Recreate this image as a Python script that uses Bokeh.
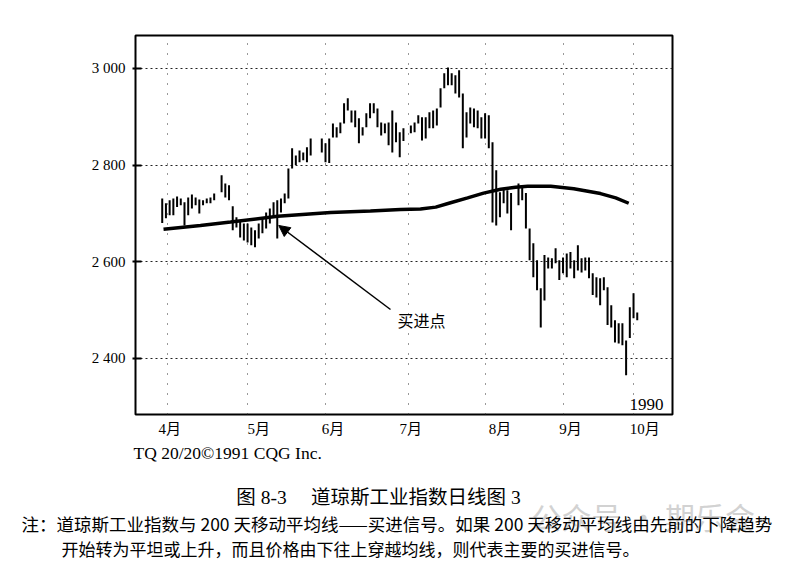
from bokeh.plotting import figure
from bokeh.models import Range1d, FixedTicker, Label, Arrow, NormalHead
from bokeh.embed import file_html
from bokeh.resources import INLINE

# ---------------- data ----------------
# trading-day index of each daily bar (gaps = holidays / unread days)
day = [0, 1, 2, 3, 4, 5, 6, 7, 8, 9, 10, 11, 12, 13, 14,
       16, 17, 18, 19, 20, 21, 22, 23, 24, 25, 26, 27, 28, 29, 30,
       31, 32, 33, 34, 35, 36, 37, 38, 39, 40,
       43, 44, 45, 46, 47, 48, 49, 50, 51, 52, 53, 54, 55, 56, 57,
       58, 59, 60, 61, 62, 63, 64, 65,
       67, 68, 69, 70, 71, 72, 73, 74, 75, 76, 77, 78, 79, 80, 81,
       82, 83, 84, 85, 86, 87, 88, 89, 90, 91, 92, 93, 94,
       96, 97, 98, 99, 100, 101, 102, 103, 104, 105, 106, 107, 108, 109, 110,
       111, 112, 113, 114, 115, 116, 117, 118, 119, 120, 121, 122, 123, 124, 125,
       126, 127, 128]

high = [2731, 2721, 2727, 2731, 2735, 2731, 2723, 2733, 2739, 2733, 2729, 2727, 2731, 2733, 2741,
        2779, 2762, 2758, 2715, 2692, 2686, 2679, 2679, 2671, 2665, 2679, 2690, 2702, 2710, 2723,
        2727, 2731, 2741, 2793, 2835, 2820, 2830, 2826, 2837, 2855,
        2855, 2845, 2855, 2886, 2878, 2888, 2928, 2938, 2913, 2913, 2897, 2878, 2907, 2928, 2928,
        2917, 2888, 2886, 2888, 2913, 2888, 2868, 2876,
        2882, 2888, 2903, 2899, 2899, 2909, 2913, 2917, 2959, 2990, 3002, 2990, 2986, 2996, 2948,
        2909, 2919, 2917, 2913, 2899, 2907, 2903, 2847, 2789, 2744, 2752, 2748, 2742,
        2762, 2754, 2742, 2669, 2638, 2603, 2545, 2614, 2609, 2607, 2628, 2603, 2609, 2617, 2620,
        2603, 2634, 2607, 2609, 2609, 2576, 2568, 2566, 2568, 2547, 2510, 2479, 2473, 2473, 2437,
        2506, 2535, 2495]

low = [2680, 2690, 2696, 2696, 2713, 2717, 2675, 2696, 2710, 2717, 2700, 2717, 2721, 2721, 2727,
       2744, 2733, 2727, 2665, 2671, 2650, 2644, 2640, 2634, 2630, 2648, 2659, 2669, 2679, 2692,
       2648, 2702, 2721, 2731, 2793, 2800, 2806, 2810, 2806, 2820,
       2826, 2806, 2804, 2857, 2857, 2866, 2886, 2913, 2888, 2878, 2845, 2861, 2878, 2897, 2907,
       2878, 2861, 2866, 2841, 2826, 2847, 2816, 2850,
       2866, 2868, 2886, 2851, 2855, 2876, 2876, 2882, 2919, 2959, 2965, 2965, 2948, 2940, 2835,
       2857, 2886, 2878, 2876, 2855, 2855, 2835, 2681, 2675, 2692, 2721, 2700, 2665,
       2717, 2727, 2669, 2603, 2568, 2541, 2464, 2520, 2586, 2586, 2597, 2562, 2576, 2568, 2586,
       2566, 2582, 2578, 2582, 2566, 2531, 2526, 2510, 2541, 2469, 2464, 2433, 2431, 2427, 2365,
       2442, 2483, 2479]

# 200-day moving average (read at several days)
ma_day = [0.35, 10.3, 18.4, 31.1, 45.4, 56.1, 64.2, 69.6, 73.7, 77.7, 82.3, 86.6,
          91.2, 95.2, 98.5, 104.7, 110.9, 118.1, 122.2, 125.7]
ma_value = [2667, 2675, 2682, 2694, 2702, 2705, 2708, 2709, 2713, 2722, 2732, 2742,
            2750, 2754, 2756, 2756, 2751, 2741, 2732, 2721]

month_start = [1.4, 23.0, 44.0, 66.4, 87.1, 108.2, 127.0]   # first day of each month
month_tick = [2, 26, 46, 67, 91, 110, 130]
month_labels = ["4月", "5月", "6月", "7月", "8月", "9月", "10月"]
y_ticks = [2400, 2600, 2800, 3000]
y_labels = ["2 400", "2 600", "2 800", "3 000"]

buy_day, buy_value = 31.4, 2675

# ---------------- layout ----------------
X0, X1 = -7.2, 137.5
Y0, Y1 = 2284, 3068
FL, FT, FW, FH = 135, 35, 537, 379   # frame in page pixels
W = 791
TOP_H = 440          # height of chart figure
BOT_H = 125          # height of text panel


def dx(px):
    return X0 + (px - FL) / FW * (X1 - X0)


def dy(py):
    return Y1 - (py - FT) / FH * (Y1 - Y0)


SERIF = "Liberation Serif, Noto Sans CJK SC"
CJK = "Noto Sans CJK SC"

p = figure(frame_width=FW, frame_height=FH,
           min_border_left=FL, min_border_top=FT,
           min_border_right=W - FL - FW, min_border_bottom=TOP_H - FT - FH,
           x_range=Range1d(X0, X1), y_range=Range1d(Y0, Y1),
           output_backend="svg", toolbar_location=None)
p.background_fill_color = "white"
p.border_fill_color = "white"
p.outline_line_color = "black"
p.outline_line_width = 2

# grids
p.xgrid.ticker = FixedTicker(ticks=month_start)
p.xgrid.grid_line_color = "#333333"
p.xgrid.grid_line_dash = "1 9"
p.xgrid.grid_line_width = 1
p.ygrid.ticker = FixedTicker(ticks=y_ticks)
p.ygrid.grid_line_color = "#222222"
p.ygrid.grid_line_dash = "2 3"
p.ygrid.grid_line_width = 1

# axes
p.xaxis.ticker = FixedTicker(ticks=month_tick)
p.xaxis.major_label_overrides = dict(zip(month_tick, month_labels))
p.xaxis.axis_line_color = None
p.xaxis.major_tick_line_color = None
p.xaxis.minor_tick_line_color = None
p.xaxis.major_tick_in = 0
p.xaxis.major_tick_out = 0
p.xaxis.major_label_standoff = 6
p.xaxis.major_label_text_font = SERIF
p.xaxis.major_label_text_font_size = "15px"
p.xaxis.major_label_text_color = "black"

p.yaxis.ticker = FixedTicker(ticks=y_ticks)
p.yaxis.major_label_overrides = dict(zip(y_ticks, y_labels))
p.yaxis.axis_line_color = None
p.yaxis.major_tick_in = 6
p.yaxis.major_tick_out = 3
p.yaxis.major_tick_line_width = 2
p.yaxis.major_tick_line_color = "black"
p.yaxis.minor_tick_line_color = None
p.yaxis.major_label_standoff = 7
p.yaxis.major_label_text_font = SERIF
p.yaxis.major_label_text_font_size = "15px"
p.yaxis.major_label_text_color = "black"

# price bars and moving average
p.segment(x0=day, y0=low, x1=day, y1=high, line_color="black", line_width=2)
p.line(ma_day, ma_value, line_color="black", line_width=3.5)

# annotation
p.add_layout(Arrow(end=NormalHead(size=11, fill_color="black", line_color="black"),
                   x_start=dx(390), y_start=dy(309), x_end=buy_day, y_end=buy_value,
                   line_color="black", line_width=1.5))
p.add_layout(Label(x=dx(397), y=dy(319), text="买进点", text_font=CJK,
                   text_font_size="16px", text_baseline="middle", text_color="black"))
p.add_layout(Label(x=dx(663), y=dy(404), text="1990", text_font=SERIF,
                   text_font_size="17px", text_align="right", text_baseline="middle",
                   text_color="black"))

# ---------------- text panel under the chart (page-pixel coordinates) ----------------
q = figure(width=W, height=BOT_H, x_range=Range1d(0, W),
           y_range=Range1d(TOP_H + BOT_H, TOP_H),
           x_axis_type=None, y_axis_type=None,
           min_border=0, min_border_left=0, min_border_right=0,
           min_border_top=0, min_border_bottom=0,
           output_backend="svg", toolbar_location=None)
q.outline_line_color = None
q.background_fill_color = "white"
q.border_fill_color = "white"

q.add_layout(Label(x=531, y=515, text="公众号 ・ 期乐会", text_font=CJK,
                   text_font_size="30px", text_baseline="middle", text_color="#d2d2d2"))
q.add_layout(Label(x=133, y=452, text="TQ 20/20©1991 CQG Inc.", text_font=SERIF,
                   text_font_size="17.5px", text_baseline="middle", text_color="black"))
q.add_layout(Label(x=378, y=497, text="图 8-3\u3000 道琼斯工业指数日线图 3", text_font=SERIF,
                   text_font_size="19.5px", text_align="center", text_baseline="middle",
                   text_color="black"))
q.add_layout(Label(x=21, y=523,
                   text="注：道琼斯工业指数与 200 天移动平均线——买进信号。如果 200 天移动平均线由先前的下降趋势",
                   text_font=CJK, text_font_size="17.5px", text_baseline="middle",
                   text_color="black"))
q.add_layout(Label(x=61, y=548,
                   text="开始转为平坦或上升，而且价格由下往上穿越均线，则代表主要的买进信号。",
                   text_font=CJK, text_font_size="17px", text_baseline="middle",
                   text_color="black"))

open("out.html", "w").write(file_html([p, q], INLINE))
